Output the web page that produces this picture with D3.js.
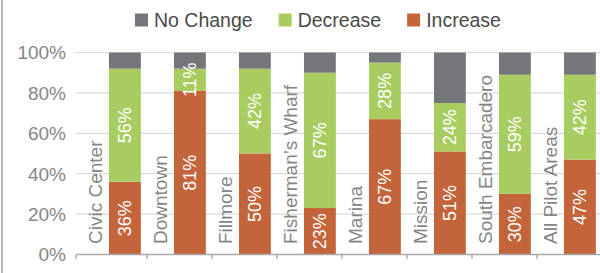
<!DOCTYPE html>
<html>
<head>
<meta charset="utf-8">
<script src="https://cdn.jsdelivr.net/npm/d3@7/dist/d3.min.js"></script>
<style>
html,body{margin:0;padding:0;background:#fff;}
svg{display:block;font-family:"Liberation Sans",Arial,Helvetica,sans-serif;}
</style>
</head>
<body>
<svg id="chart" width="600" height="273"></svg>
<script>
const categories = ["Civic Center","Downtown","Fillmore","Fisherman\u2019s Wharf","Marina","Mission","South Embarcadero","All Pilot Areas"];
const increase = [36, 81, 50, 23, 67, 51, 30, 47];
const decrease = [56, 11, 42, 67, 28, 24, 59, 42];
const noChange = [8, 8, 8, 10, 5, 25, 11, 11];
const yTicks = [0, 20, 40, 60, 80, 100];
const seriesNames = ["No Change","Decrease","Increase"];
const colors = {"Increase":"#c4643a","Decrease":"#a9cc60","No Change":"#757679"};

const svg = d3.select("#chart");
const W = 600, H = 273;

// left frame border
svg.append("line").attr("x1",2).attr("x2",2).attr("y1",0).attr("y2",H)
  .attr("stroke","#a0a0a0").attr("stroke-width",1.5);

const y = d3.scaleLinear().domain([0,100]).range([254.5,52.5]);
const x = d3.scaleBand().domain(categories).range([82,602]).padding(0);
const bw = x.bandwidth();
const barOff = bw*0.415, barW = bw*0.49;

// gridlines
svg.append("g").selectAll("line").data(yTicks.filter(d=>d>0)).join("line")
  .attr("x1",76).attr("x2",W).attr("y1",d=>y(d)).attr("y2",d=>y(d))
  .attr("stroke","#dadada").attr("stroke-width",1.2);

// y labels
svg.append("g").selectAll("text").data(yTicks).join("text")
  .attr("x",66).attr("y",d=>y(d)+6.8).attr("text-anchor","end")
  .attr("font-size",19).attr("fill","#868686").text(d=>d+"%");

// stacked data
const rows = categories.map((c,i)=>({cat:c,"Increase":increase[i],"Decrease":decrease[i],"No Change":noChange[i]}));
const stack = d3.stack().keys(["Increase","Decrease","No Change"])(rows);

const g = svg.append("g");
stack.forEach(layer=>{
  g.append("g").selectAll("rect").data(layer).join("rect")
    .attr("x",d=>x(d.data.cat)+barOff).attr("width",barW)
    .attr("y",d=>y(d[1])).attr("height",d=>y(d[0])-y(d[1]))
    .attr("fill",colors[layer.key]);
});

// value labels
stack.filter(l=>l.key!=="No Change").forEach(layer=>{
  g.append("g").selectAll("text").data(layer).join("text")
    .attr("transform",d=>{
      const cx = x(d.data.cat)+barOff+barW/2+6.3;
      const cy = (y(d[0])+y(d[1]))/2;
      return `translate(${cx},${cy}) rotate(-90)`;
    })
    .attr("text-anchor","middle").attr("font-size",18).attr("fill","#fff")
    .text(d=>d.data[layer.key]+"%");
});

// category labels
svg.append("g").selectAll("text").data(categories).join("text")
  .attr("transform",c=>`translate(${x(c)+barOff-6.5},244) rotate(-90)`)
  .attr("text-anchor","start").attr("font-size",19).attr("fill","#858585")
  .text(c=>c);

// x axis
const ax = svg.append("g");
ax.append("line").attr("x1",76).attr("x2",W).attr("y1",254.5).attr("y2",254.5)
  .attr("stroke","#a8a8a8").attr("stroke-width",1.3);
const tickXs = [76].concat(categories.map(c=>x(c)+bw));
ax.selectAll("line.t").data(tickXs).join("line").attr("class","t")
  .attr("x1",d=>d).attr("x2",d=>d).attr("y1",254.5).attr("y2",259)
  .attr("stroke","#a8a8a8").attr("stroke-width",1.3);

// legend
const leg = svg.append("g");
let lx = 135;
seriesNames.forEach(n=>{
  leg.append("rect").attr("x",lx).attr("y",13.5).attr("width",13).attr("height",13).attr("fill",colors[n]);
  const t = leg.append("text").attr("x",lx+19).attr("y",27).attr("font-size",19.5)
    .attr("fill","#4a4a4a").text(n);
  lx = lx + 19 + t.node().getComputedTextLength() + 26;
});
</script>
</body>
</html>
